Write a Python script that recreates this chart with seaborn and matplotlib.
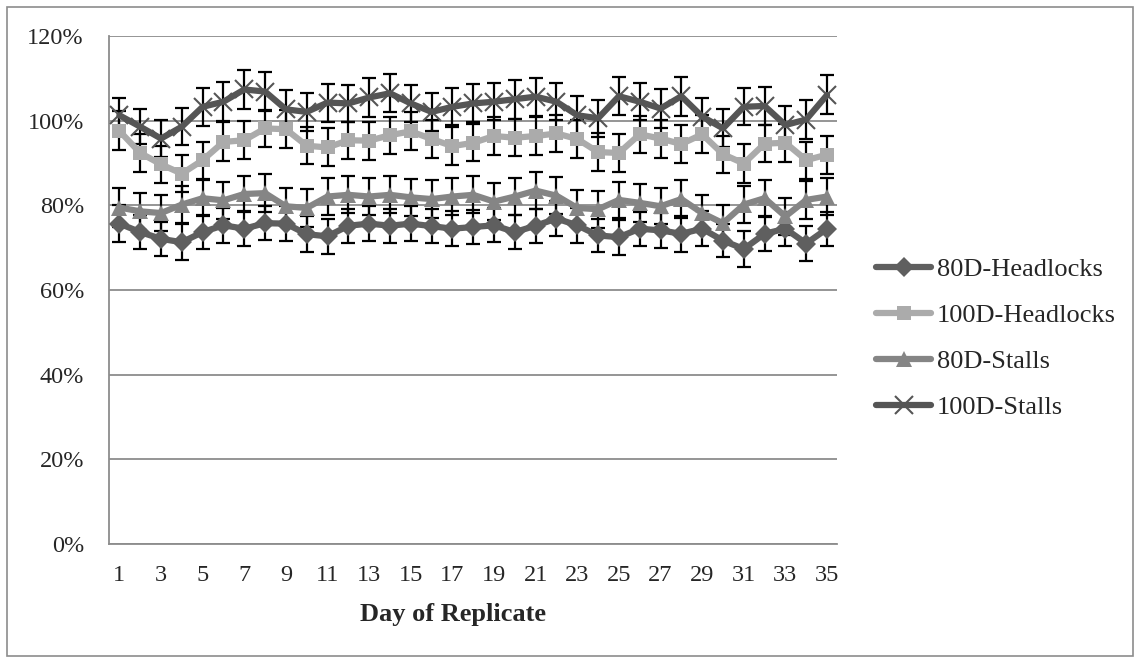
import matplotlib
matplotlib.use("Agg")
import matplotlib.pyplot as plt
from matplotlib.patches import Rectangle
from matplotlib.ticker import PercentFormatter
import numpy as np
import pandas as pd
import seaborn as sns

days = list(range(1, 36))

headlocks_80 = [75.7, 73.7, 72.1, 71.3, 73.7, 75.3, 74.5, 75.8, 75.7, 73.2,
                72.7, 75.2, 75.7, 75.2, 75.7, 75.1, 74.5, 74.9, 75.3, 73.7,
                75.2, 76.9, 75.3, 72.9, 72.5, 74.5, 74.1, 73.3, 74.5, 71.7,
                69.7, 73.3, 74.5, 71.0, 74.5]
headlocks_100 = [97.6, 92.4, 89.7, 87.5, 90.7, 95.0, 95.4, 98.2, 98.0, 94.1,
                 93.7, 95.4, 95.3, 96.6, 97.5, 95.7, 94.0, 94.8, 96.4, 96.0,
                 96.4, 97.0, 95.7, 92.6, 92.4, 96.8, 95.8, 94.5, 96.8, 92.1,
                 89.9, 94.6, 94.8, 90.7, 92.0]
stalls_80 = [79.5, 78.6, 78.2, 80.2, 81.7, 81.2, 82.7, 82.9, 79.8, 79.4,
             82.1, 82.5, 82.1, 82.5, 81.9, 81.5, 82.1, 82.5, 80.9, 82.1,
             83.5, 82.3, 79.4, 79.1, 81.3, 80.6, 79.8, 81.5, 78.2, 75.8,
             80.2, 81.7, 77.4, 81.3, 82.1]
stalls_100 = [101.3, 98.6, 95.8, 98.6, 103.3, 104.5, 107.4, 106.9, 102.7, 102.1,
              104.3, 104.1, 105.5, 106.5, 104.1, 102.1, 103.3, 104.1, 104.5, 105.1,
              105.7, 104.5, 101.3, 100.6, 105.8, 104.5, 102.9, 105.8, 101.0, 98.2,
              103.3, 103.5, 99.0, 100.3, 106.1]

err_headlocks_80 = [4.3, 4.0, 4.1, 4.2, 4.0, 4.1, 4.2, 4.0, 4.1, 4.2,
                    4.1, 4.0, 4.1, 4.0, 4.1, 4.0, 4.2, 4.1, 4.0, 4.1,
                    4.0, 4.2, 4.1, 4.0, 4.1, 4.0, 4.1, 4.2, 4.1, 4.0,
                    4.2, 4.1, 4.0, 4.1, 4.0]
err_headlocks_100 = [4.6, 4.5, 4.4, 4.3, 4.4, 4.6, 4.5, 4.4, 4.5, 4.4,
                     4.5, 4.4, 4.5, 4.4, 4.5, 4.4, 4.5, 4.4, 4.5, 4.4,
                     4.5, 4.4, 4.5, 4.4, 4.5, 4.4, 4.5, 4.4, 4.5, 4.4,
                     4.5, 4.4, 4.5, 4.4, 4.5]
err_stalls_80 = [4.6, 4.3, 4.2, 4.4, 4.3, 4.4, 4.3, 4.5, 4.3, 4.4,
                 4.3, 4.4, 4.3, 4.4, 4.3, 4.4, 4.3, 4.4, 4.3, 4.4,
                 4.3, 4.4, 4.3, 4.4, 4.3, 4.4, 4.3, 4.4, 4.3, 4.4,
                 4.3, 4.4, 4.3, 4.4, 4.3]
err_stalls_100 = [4.0, 4.2, 4.3, 4.4, 4.5, 4.6, 4.7, 4.6, 4.5, 4.4,
                  4.5, 4.4, 4.6, 4.5, 4.4, 4.5, 4.4, 4.5, 4.4, 4.6,
                  4.5, 4.4, 4.5, 4.4, 4.5, 4.4, 4.5, 4.6, 4.4, 4.5,
                  4.4, 4.5, 4.4, 4.5, 4.6]

series = [
    ("80D-Headlocks", headlocks_80, err_headlocks_80, "#5f5f5f", "D", 10),
    ("100D-Headlocks", headlocks_100, err_headlocks_100, "#ababab", "s", 10),
    ("80D-Stalls", stalls_80, err_stalls_80, "#858585", "^", 12),
    ("100D-Stalls", stalls_100, err_stalls_100, "#555555", "x", 13),
]

sns.set_theme(style="white")
plt.rcParams['font.family'] = ['Liberation Serif', 'DejaVu Serif']

fig = plt.figure(figsize=(11.4, 6.63), dpi=100)
ax = fig.add_axes([0.0956, 0.1795, 0.639, 0.766])

for name, vals, err, color, mk, ms in series:
    df = pd.DataFrame({"day": days, "value": np.array(vals) / 100})
    ax.errorbar(days, df["value"], yerr=np.array(err) / 100, fmt="none",
                ecolor="black", elinewidth=1.6, capsize=5, capthick=1.6, zorder=2)
    sns.lineplot(data=df, x="day", y="value", ax=ax, color=color, linewidth=4.5,
                 marker=mk, markersize=ms, markeredgewidth=1.5 if mk == "x" else 0,
                 markeredgecolor=color, label=name, zorder=3)

ax.set_xlim(0.5, 35.5)
ax.set_ylim(0, 1.2)
ax.set_yticks(np.arange(0, 1.21, 0.2))
ax.yaxis.set_major_formatter(PercentFormatter(1.0, decimals=0))
ax.set_xticks(days[::2])
ax.grid(axis="y", color="#8c8c8c", linewidth=1.3)
ax.set_axisbelow(True)
for side in ["top", "right"]:
    ax.spines[side].set_visible(False)
for side in ["left", "bottom"]:
    ax.spines[side].set_color("#8c8c8c")
    ax.spines[side].set_linewidth(1.3)
ax.tick_params(axis="both", labelsize=17.5, length=0)
ax.tick_params(axis="y", pad=18)
ax.tick_params(axis="x", pad=15)
ax.set_ylabel("")
ax.set_xlabel("Day of Replicate", fontsize=19, fontweight="bold")
ax.xaxis.set_label_coords(0.472, -0.116)

leg = ax.legend(loc="center left", bbox_to_anchor=(1.053, 0.405), frameon=False,
                fontsize=19, handlelength=2.1, handletextpad=0.2, labelspacing=0.85,
                borderpad=0, borderaxespad=0)

fig.patches.append(Rectangle((0.006, 0.01), 0.988, 0.98, transform=fig.transFigure,
                             fill=False, edgecolor="#8c8c8c", linewidth=1.2))

fig.savefig("out.png", dpi=100)
